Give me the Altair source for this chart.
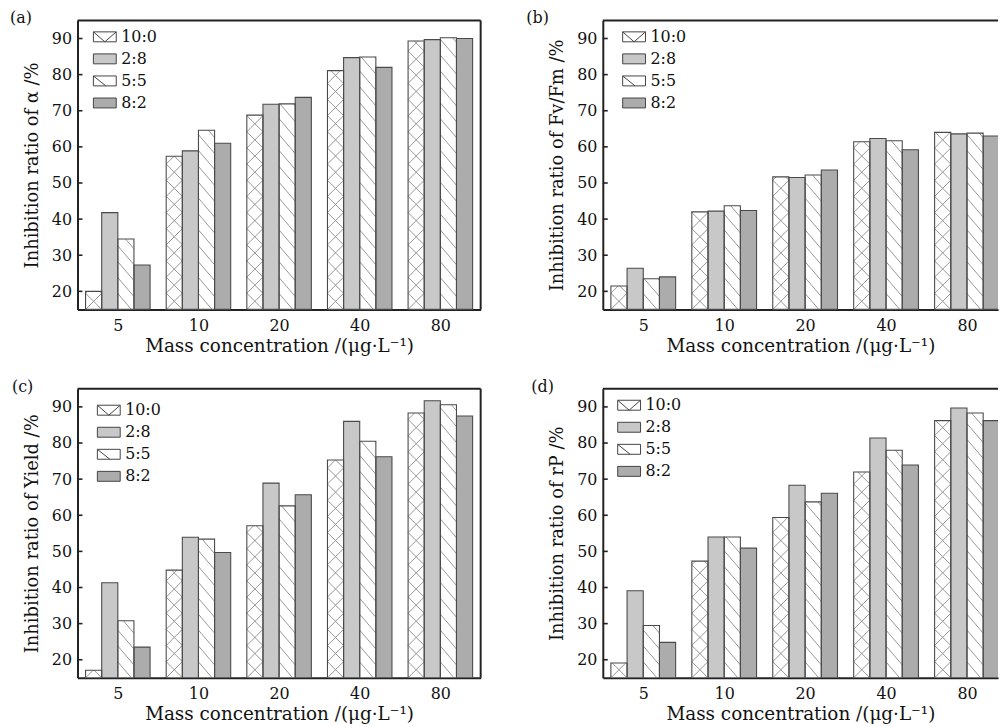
import json
import altair as alt
import pandas as pd

# ---------------- data ----------------
CONC = ["5", "10", "20", "40", "80"]
SERIES = ["10:0", "2:8", "5:5", "8:2"]
PANELS = ["(a)", "(b)", "(c)", "(d)"]
YTITLES = [
    "Inhibition ratio of α /%",
    "Inhibition ratio of Fv/Fm /%",
    "Inhibition ratio of Yield /%",
    "Inhibition ratio of rP /%",
]
XTITLE = "Mass concentration /(μg·L⁻¹)"

ALPHA_100 = [20.0, 57.4, 68.8, 81.1, 89.3]
ALPHA_28 = [41.8, 58.9, 71.8, 84.7, 89.7]
ALPHA_55 = [34.5, 64.6, 71.9, 84.9, 90.2]
ALPHA_82 = [27.3, 61.0, 73.7, 82.0, 90.0]

FVFM_100 = [21.5, 42.0, 51.7, 61.4, 64.0]
FVFM_28 = [26.4, 42.2, 51.5, 62.3, 63.6]
FVFM_55 = [23.5, 43.7, 52.2, 61.7, 63.8]
FVFM_82 = [24.0, 42.4, 53.6, 59.2, 63.0]

YIELD_100 = [17.1, 44.8, 57.1, 75.3, 88.3]
YIELD_28 = [41.3, 53.9, 68.9, 86.0, 91.7]
YIELD_55 = [30.8, 53.4, 62.6, 80.5, 90.6]
YIELD_82 = [23.5, 49.7, 65.7, 76.2, 87.5]

RP_100 = [19.1, 47.3, 59.4, 72.0, 86.2]
RP_28 = [39.1, 54.0, 68.3, 81.4, 89.7]
RP_55 = [29.5, 54.0, 63.7, 78.0, 88.3]
RP_82 = [24.8, 50.9, 66.1, 73.9, 86.2]

PANEL_VALUES = [
    [ALPHA_100, ALPHA_28, ALPHA_55, ALPHA_82],
    [FVFM_100, FVFM_28, FVFM_55, FVFM_82],
    [YIELD_100, YIELD_28, YIELD_55, YIELD_82],
    [RP_100, RP_28, RP_55, RP_82],
]

YTICKS = [20, 30, 40, 50, 60, 70, 80, 90]
Y_MIN, Y_MAX = 15, 95

# ---------------- style ----------------
SERIF = "DejaVu Serif"
INK = "#111111"
FRAME = "#222222"
FILLS = ["#ffffff", "#c8c8c8", "#ffffff", "#acacac"]
HATCH = ["cross", "none", "back", "none"]
RECT = "M-1.15,-0.5H1.15V0.5H-1.15Z"
SHAPES = [
    RECT + " M-1.15,-0.5L0,0.5L1.15,-0.5",
    RECT,
    RECT + " M-1.15,-0.5L0.1,0.5",
    RECT,
]

H = 291
PX_PER_GROUP = 81.3
BAR_W = 0.2
GROUP_SPAN = 0.8
PX_PER_Y = H / (Y_MAX - Y_MIN)

LAYOUT = [
    dict(w=406, xmax=4.5, right=True, label_dx=-68, leg_x=17, leg_y=6),
    dict(w=398, xmax=-0.5 + 398 / 81.5, right=False, label_dx=-77, leg_x=21, leg_y=6),
    dict(w=406, xmax=4.5, right=True, label_dx=-66, leg_x=21, leg_y=11),
    dict(w=398, xmax=-0.5 + 398 / 81.5, right=False, label_dx=-72, leg_x=16, leg_y=6),
]


def hatch_rows(vals):
    rows = []
    for si, kind in enumerate(HATCH):
        if kind == "none":
            continue
        if kind == "cross":
            drop = BAR_W * PX_PER_GROUP / PX_PER_Y
            period = drop
            fams = ["down", "up"]
        else:
            drop = 19 / PX_PER_Y
            period = 16 / PX_PER_Y
            fams = ["down"]
        for gi, v in enumerate(vals[si]):
            x0 = gi - GROUP_SPAN / 2 + BAR_W * si
            x1 = x0 + BAR_W
            k = 0
            while True:
                c = Y_MIN + k * period
                if c - drop > v:
                    break
                for f in fams:
                    yl, yr = (c, c - drop) if f == "down" else (c - drop, c)
                    ta = (Y_MIN - yl) / (yr - yl)
                    tb = (v - yl) / (yr - yl)
                    t0 = max(0.0, min(ta, tb))
                    t1 = min(1.0, max(ta, tb))
                    if t1 - t0 > 0.03:
                        rows.append({
                            "x": x0 + (x1 - x0) * t0, "x2": x0 + (x1 - x0) * t1,
                            "y": yl + (yr - yl) * t0, "y2": yl + (yr - yl) * t1,
                        })
                k += 1
    return rows


def make_panel(i):
    vals = PANEL_VALUES[i]
    lay = LAYOUT[i]
    rows = []
    for si, s in enumerate(SERIES):
        for gi, c in enumerate(CONC):
            x0 = gi - GROUP_SPAN / 2 + BAR_W * si
            rows.append({"series": s, "conc": c, "value": vals[si][gi],
                         "x0": x0, "x1": x0 + BAR_W})
    bars = pd.DataFrame(rows)
    hatch = pd.DataFrame(hatch_rows(vals))
    one = pd.DataFrame({"k": [0]})

    xs = alt.Scale(domain=[-0.5, lay["xmax"]], nice=False, zero=False)
    ys = alt.Scale(domain=[Y_MIN, Y_MAX], nice=False, zero=False)
    fill_scale = alt.Scale(domain=SERIES, range=FILLS)
    shape_scale = alt.Scale(domain=SERIES, range=SHAPES)

    xaxis = alt.Axis(
        values=list(range(len(CONC))),
        labelExpr=json.dumps(CONC) + "[datum.value]",
        title=XTITLE, labelFontSize=16, labelPadding=8, labelAngle=0,
        labelFlush=False, titleFontSize=18.5, titlePadding=3,
        labelFont=SERIF, titleFont=SERIF, labelColor=INK, titleColor=INK,
        titleFontWeight="normal", grid=False, ticks=False,
        domainColor=FRAME, domainWidth=2,
    )
    yaxis = alt.Axis(
        values=YTICKS, title=YTITLES[i], labelFontSize=16, labelPadding=6,
        titleFontSize=18, titlePadding=10,
        labelFont=SERIF, titleFont=SERIF, labelColor=INK, titleColor=INK,
        titleFontWeight="normal", grid=False, ticks=False,
        domainColor=FRAME, domainWidth=2,
    )
    leg = alt.Legend(
        orient="none", legendX=lay["leg_x"], legendY=lay["leg_y"], title=None,
        symbolSize=400, labelFontSize=16, labelFont=SERIF, labelColor=INK,
        labelOffset=6, rowPadding=3.2, padding=0,
        symbolStrokeColor="#444444", symbolStrokeWidth=1,
    )

    base = alt.Chart(bars)
    fills = base.mark_bar(clip=True, strokeWidth=0).encode(
        x=alt.X("x0:Q", scale=xs, axis=xaxis), x2="x1:Q",
        y=alt.Y("value:Q", scale=ys, axis=yaxis), y2=alt.datum(Y_MIN),
        fill=alt.Fill("series:N", scale=fill_scale, legend=leg),
    )
    hatches = alt.Chart(hatch).mark_rule(clip=True, color="#8a8a8a", strokeWidth=0.9).encode(
        x=alt.X("x:Q", scale=xs, axis=xaxis), x2="x2:Q",
        y=alt.Y("y:Q", scale=ys, axis=yaxis), y2="y2:Q",
    )
    outline = base.mark_bar(clip=True, fillOpacity=0, stroke="#4a4a4a", strokeWidth=1.1).encode(
        x=alt.X("x0:Q", scale=xs, axis=xaxis), x2="x1:Q",
        y=alt.Y("value:Q", scale=ys, axis=yaxis), y2=alt.datum(Y_MIN),
    )
    ticks = alt.Chart(pd.DataFrame({"t": YTICKS})).mark_rule(color=FRAME, strokeWidth=1.6).encode(
        y=alt.Y("t:Q", scale=ys, axis=yaxis), x=alt.value(0), x2=alt.value(5),
    )
    top = alt.Chart(one).mark_rule(color=FRAME, strokeWidth=2).encode(
        x=alt.value(0), x2=alt.value(lay["w"]), y=alt.value(0),
    )
    label = alt.Chart(one).mark_text(
        text=PANELS[i], align="left", baseline="alphabetic", font=SERIF,
        fontSize=16, color=INK,
    ).encode(x=alt.value(lay["label_dx"]), y=alt.value(3))
    legend_pts = base.mark_point(
        filled=True, clip=True, stroke="#444444", strokeWidth=1, size=400, opacity=1,
    ).encode(
        x=alt.value(-300), y=alt.value(-300),
        fill=alt.Fill("series:N", scale=fill_scale, legend=leg),
        shape=alt.Shape("series:N", scale=shape_scale, legend=leg),
    )
    layers = [fills, hatches, outline, ticks, top, label, legend_pts]
    if lay["right"]:
        layers.append(
            alt.Chart(one).mark_rule(color=FRAME, strokeWidth=2).encode(
                x=alt.value(lay["w"]), y=alt.value(0), y2=alt.value(H),
            )
        )
    return alt.layer(*layers).properties(width=lay["w"], height=H)


chart = (
    alt.concat(
        *[make_panel(i) for i in range(4)],
        columns=2,
        spacing={"row": 80, "column": 123},
        bounds="flush",
        padding={"left": 2, "top": 0, "right": 0, "bottom": 0},
    )
    .resolve_scale(fill="independent", shape="independent")
    .configure_view(strokeWidth=0)
)

chart.save("out.html", embed_options={"renderer": "svg", "actions": False})
